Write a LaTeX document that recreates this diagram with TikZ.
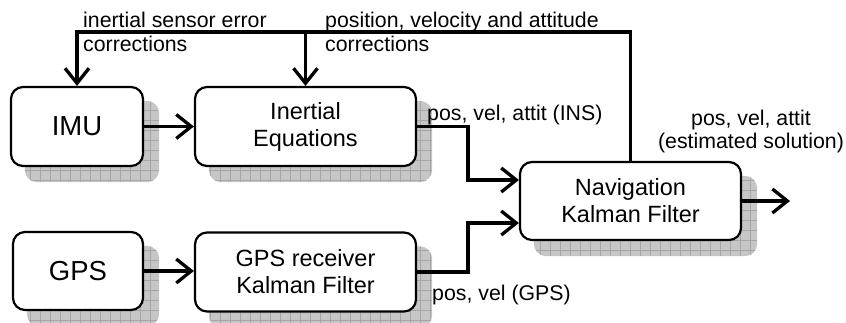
\documentclass[tikz,border=0pt]{standalone}
\usepackage{fontspec}
\setmainfont{Liberation Sans}
\usetikzlibrary{arrows.meta,calc,backgrounds}
\begin{document}
\begin{tikzpicture}[x=1pt,y=-1pt,
  blk/.style={draw, line width=2.2pt, rounded corners=12pt, fill=white, align=center, inner sep=0pt, font=\fontsize{23.5}{27}\selectfont},
  bigblk/.style={blk, font=\fontsize{27.5}{30}\selectfont},
  conn/.style={line width=3.3pt, -{Straight Barb[length=15pt,width=24pt]}},
  lbl/.style={inner sep=0pt, font=\fontsize{21.3}{24.5}\selectfont, align=left},
  shadowfill/.style={fill=gray!45},
  shadowgrid/.style={draw=gray!70, line width=0.6pt}]
\useasboundingbox (0,0) rectangle (846,322);
% blocks
\node[bigblk, minimum width=132pt, minimum height=79pt] (imu) at (77,126.5) {IMU};
\node[blk, minimum width=221pt, minimum height=79pt] (ie) at (305.5,126.5) {Inertial\\Equations};
\node[blk, minimum width=221pt, minimum height=78pt] (nav) at (630.5,201) {Navigation\\Kalman Filter};
\node[bigblk, minimum width=130pt, minimum height=78pt] (gps) at (78,271) {GPS};
\node[blk, minimum width=221pt, minimum height=79pt] (gpsr) at (305.5,272) {GPS receiver\\Kalman Filter};
% shadows
\begin{scope}[on background layer]
\foreach \n in {imu,ie,nav,gps,gpsr}{
  \path[shadowfill, rounded corners=12pt] ($(\n.north west)+(15,15)$) rectangle ($(\n.south east)+(15,15)$);
  \begin{scope}
    \clip[rounded corners=12pt] ($(\n.north west)+(15,15)$) rectangle ($(\n.south east)+(15,15)$);
    \path[shadowgrid] ($(\n.north west)+(15,15)$) grid[step=10pt] ($(\n.south east)+(15,15)$);
  \end{scope}
}
\end{scope}
% connectors
\coordinate (jog) at (468,0);
\coordinate (fb) at (0,32);
\coordinate (out) at (790,201);
\draw[conn] (imu) -- (ie);
\draw[conn] (gps.east) -- (gps.east -| gpsr.west);
\draw[conn] (ie.east) -- (ie.east -| jog) |- ([yshift=21pt]nav.west);
\draw[conn] (gpsr.east) -- (gpsr.east -| jog) |- ([yshift=-22pt]nav.west);
\draw[conn] (nav.east) -- (out);
\draw[conn] (nav.north) |- (fb -| imu.north) -- (imu.north);
\draw[conn] (fb -| ie.north) -- (ie.north);
% labels
\node[lbl, anchor=north west] (l1) at (83,11.5) {inertial sensor error\\corrections};
\node[lbl, anchor=north west] (l2) at (325,11.5) {position, velocity and attitude\\corrections};
\node[lbl, anchor=base west] (l3) at (427,120) {pos, vel, attit (INS)};
\node[lbl, anchor=north, align=center, font=\fontsize{21.3}{23}\selectfont] (l4) at (751,109.5) {pos, vel, attit\\(estimated solution)};
\node[lbl, anchor=base west] (l5) at (432,300) {pos, vel (GPS)};
\end{tikzpicture}
\end{document}
